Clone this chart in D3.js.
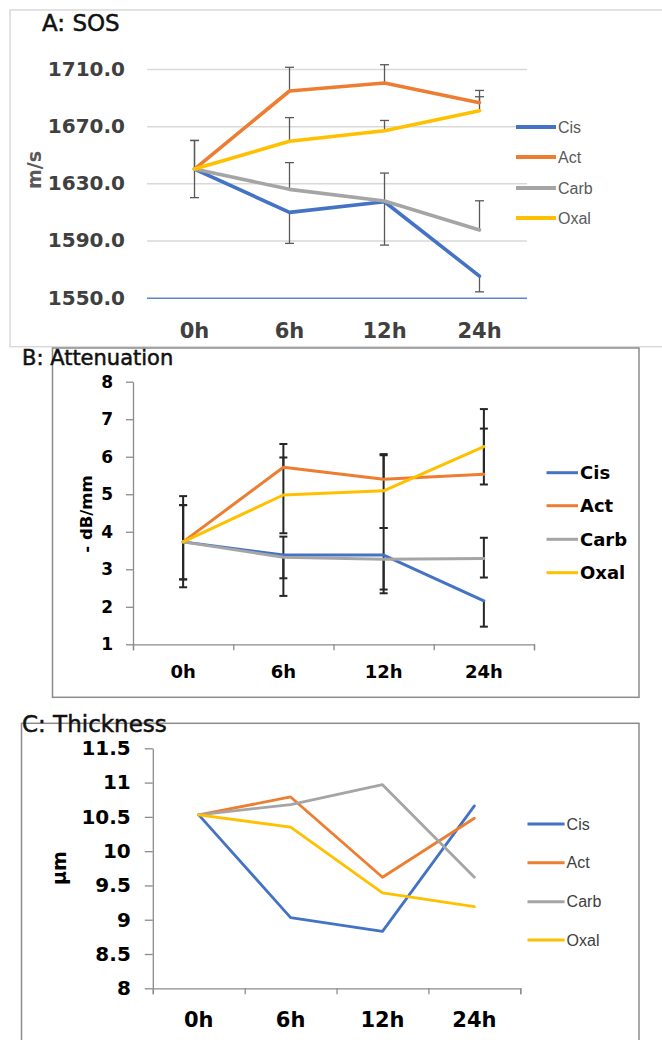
<!DOCTYPE html>
<html>
<head>
<meta charset="utf-8">
<script src="https://cdn.jsdelivr.net/npm/d3@7"></script>
<style>
  html, body { margin: 0; padding: 0; background: #fff; }
  svg { display: block; }
</style>
</head>
<body>
<svg id="chart" width="662" height="1040"></svg>
<script>
// ---------- shared ----------
const categories = ["0h", "6h", "12h", "24h"];
const seriesNames = ["Cis", "Act", "Carb", "Oxal"];
const seriesColors = ["#4472C4", "#ED7D31", "#A5A5A5", "#FFC000"];

// ---------- Panel A: SOS (m/s) ----------
const sosCis  = [1640, 1609.7, 1617.1, 1565.1];
const sosAct  = [1640, 1694.6, 1700.2, 1686.4];
const sosCarb = [1640, 1625.8, 1617.6, 1597.3];
const sosOxal = [1640, 1659.4, 1666.8, 1680.8];
// error bar [low, high]
const sosErrCis  = [[1620, 1640], [1588, 1609.7], [1586.8, 1617.1], [1554.1, 1565.1]];
const sosErrAct  = [[1640, 1660], [1694.6, 1711.2], [1700.2, 1713], [1686.4, 1695]];
const sosErrCarb = [[1640, 1640], [1625.8, 1644.5], [1617.6, 1637.2], [1597.3, 1617.8]];
const sosErrOxal = [[1640, 1660], [1659.4, 1676], [1666.8, 1674], [1680.8, 1690.6]];
const sosTicks = [1550, 1590, 1630, 1670, 1710];

// ---------- Panel B: Attenuation (- dB/mm) ----------
const attCis  = [3.73, 3.38, 3.38, 2.16];
const attAct  = [3.73, 5.72, 5.40, 5.53];
const attCarb = [3.73, 3.32, 3.27, 3.29];
const attOxal = [3.73, 4.98, 5.09, 6.27];
const attErrCis  = [[2.73, 4.71], [2.76, 3.87], [2.36, 4.10], [1.47, 2.16]];
const attErrAct  = [[2.52, 4.95], [5.72, 6.34], [5.40, 6.04], [5.53, 6.75]];
const attErrCarb = [[3.73, 3.73], [2.29, 3.32], [2.46, 3.27], [2.78, 3.84]];
const attErrOxal = [[2.73, 4.71], [3.96, 5.98], [4.10, 6.07], [5.26, 7.27]];
const attTicks = [1, 2, 3, 4, 5, 6, 7, 8];

// ---------- Panel C: Thickness (µm) ----------
const thkCis  = [10.53, 9.03, 8.83, 10.66];
const thkAct  = [10.53, 10.79, 9.62, 10.48];
const thkCarb = [10.53, 10.68, 10.97, 9.62];
const thkOxal = [10.53, 10.35, 9.39, 9.19];
const thkTicks = [8, 8.5, 9, 9.5, 10, 10.5, 11, 11.5];

const svg = d3.select("#chart");
const BOLD = "DejaVu Sans";

function drawPanel(cfg) {
  const g = svg.append("g");

  // frame
  g.append("rect")
    .attr("x", cfg.box[0]).attr("y", cfg.box[1])
    .attr("width", cfg.box[2]).attr("height", cfg.box[3])
    .attr("fill", "none").attr("stroke", cfg.boxColor).attr("stroke-width", 1.5);

  const x = d3.scaleBand().domain(categories).range(cfg.xRange).padding(0);
  const y = d3.scaleLinear().domain(cfg.yDomain).range(cfg.yRange);

  // y axis
  if (cfg.grid) {
    const w = cfg.xRange[1] - cfg.xRange[0];
    const ya = g.append("g")
      .attr("transform", `translate(${cfg.xRange[0]},0)`)
      .call(d3.axisLeft(y).tickValues(cfg.ticks).tickFormat(cfg.tickFmt)
        .tickSize(-w).tickPadding(cfg.yPad));
    ya.select(".domain").remove();
    ya.selectAll(".tick line")
      .attr("stroke", d => d === cfg.yDomain[0] ? "#5B86CF" : "#D9D9D9")
      .attr("stroke-width", 1.5);
    ya.selectAll(".tick text")
      .attr("font-family", BOLD).attr("font-weight", "bold")
      .attr("font-size", cfg.yFont).attr("fill", cfg.textColor);
  } else {
    const ya = g.append("g")
      .attr("transform", `translate(${cfg.xRange[0]},0)`)
      .call(d3.axisLeft(y).tickValues(cfg.ticks).tickFormat(cfg.tickFmt)
        .tickSize(cfg.tickLen).tickSizeOuter(0).tickPadding(cfg.yPad));
    ya.select(".domain").attr("stroke", "#8C8C8C").attr("stroke-width", 1.3);
    ya.selectAll(".tick line").attr("stroke", "#8C8C8C").attr("stroke-width", 1.3);
    ya.selectAll(".tick text")
      .attr("font-family", BOLD).attr("font-weight", "bold")
      .attr("font-size", cfg.yFont).attr("fill", cfg.textColor);

    // category boundary ticks along the x axis
    const xb = d3.scaleLinear().domain([0, categories.length]).range(cfg.xRange);
    const xba = g.append("g")
      .attr("transform", `translate(0,${cfg.yRange[0]})`)
      .call(d3.axisBottom(xb).ticks(categories.length).tickFormat("")
        .tickSize(6).tickSizeOuter(6));
    xba.select(".domain").attr("stroke", "#8C8C8C").attr("stroke-width", 1.3);
    xba.selectAll(".tick line").attr("stroke", "#8C8C8C").attr("stroke-width", 1.3);
  }

  // x labels
  const xa = g.append("g")
    .attr("transform", `translate(0,${cfg.yRange[0]})`)
    .call(d3.axisBottom(x).tickSize(0).tickPadding(cfg.xPad));
  xa.select(".domain").remove();
  xa.selectAll(".tick text")
    .attr("font-family", BOLD).attr("font-weight", "bold")
    .attr("font-size", cfg.xFont).attr("fill", cfg.textColor);

  const cx = d => x(d) + x.bandwidth() / 2;

  // error bars
  const eg = g.append("g");
  cfg.errors.forEach((errs, si) => {
    errs.forEach((e, i) => {
      const v = cfg.series[si][i];
      if (e[0] === e[1]) return;
      const xc = cx(categories[i]);
      eg.append("line")
        .attr("x1", xc).attr("x2", xc).attr("y1", y(e[0])).attr("y2", y(e[1]))
        .attr("stroke", cfg.errColor).attr("stroke-width", cfg.errWidth);
      [e[0], e[1]].forEach(ev => {
        if (ev === v) return;
        eg.append("line")
          .attr("x1", xc - cfg.cap).attr("x2", xc + cfg.cap)
          .attr("y1", y(ev)).attr("y2", y(ev))
          .attr("stroke", cfg.errColor).attr("stroke-width", cfg.errWidth);
      });
    });
  });

  // lines
  const line = d3.line().x((d, i) => cx(categories[i])).y(d => y(d));
  cfg.series.forEach((vals, si) => {
    g.append("path").datum(vals)
      .attr("d", line).attr("fill", "none")
      .attr("stroke", seriesColors[si]).attr("stroke-width", cfg.lineWidth)
      .attr("stroke-linejoin", "round").attr("stroke-linecap", "round");
  });

  // legend
  seriesNames.forEach((name, si) => {
    const ly = cfg.legY[si];
    g.append("line")
      .attr("x1", cfg.legX[0]).attr("x2", cfg.legX[1]).attr("y1", ly).attr("y2", ly)
      .attr("stroke", seriesColors[si]).attr("stroke-width", cfg.legWidth);
    g.append("text")
      .attr("x", cfg.legX[1] + 2).attr("y", ly).attr("dy", "0.36em")
      .attr("font-family", cfg.legFamily).attr("font-weight", cfg.legWeight)
      .attr("font-size", cfg.legFont).attr("fill", cfg.legColor)
      .text(name);
  });

  // title
  svg.append("text")
    .attr("x", cfg.title[1]).attr("y", cfg.title[2])
    .attr("font-family", "DejaVu Sans").attr("font-size", cfg.titleFont)
    .attr("fill", "#111").attr("stroke", "#111").attr("stroke-width", 0.5)
    .text(cfg.title[0]);

  // y label
  g.append("text")
    .attr("transform", `translate(${cfg.yLabel[1]},${cfg.yLabel[2]}) rotate(-90)`)
    .attr("text-anchor", "middle")
    .attr("font-family", BOLD).attr("font-weight", "bold")
    .attr("font-size", cfg.yLabelFont).attr("fill", cfg.yLabelColor)
    .text(cfg.yLabel[0]);
}

drawPanel({
  box: [10, 10, 700, 336.7], boxColor: "#D9D9D9",
  xRange: [147, 527], yDomain: [1550, 1710], yRange: [297.7, 69],
  grid: true, ticks: sosTicks, tickFmt: d3.format(".1f"), yPad: 22, yFont: 20,
  xPad: 25, xFont: 21, textColor: "#404040",
  series: [sosCis, sosAct, sosCarb, sosOxal],
  errors: [sosErrCis, sosErrAct, sosErrCarb, sosErrOxal],
  errColor: "#595959", errWidth: 1.3, cap: 4.5, lineWidth: 3.6,
  legX: [516, 556], legY: [127, 157, 188, 218], legWidth: 4,
  legFamily: "Liberation Sans", legWeight: "normal", legFont: 16, legColor: "#595959",
  title: ["A: SOS", 42, 31], titleFont: 23,
  yLabel: ["m/s", 41, 170], yLabelFont: 19, yLabelColor: "#595959"
});

drawPanel({
  box: [52.5, 348, 586.5, 349.3], boxColor: "#8C8C8C",
  xRange: [133, 534], yDomain: [1, 8], yRange: [644.3, 381.7],
  grid: false, ticks: attTicks, tickFmt: d3.format("d"), tickLen: 7, yPad: 13, yFont: 17,
  xPad: 21, xFont: 18, textColor: "#000",
  series: [attCis, attAct, attCarb, attOxal],
  errors: [attErrCis, attErrAct, attErrCarb, attErrOxal],
  errColor: "#262626", errWidth: 2, cap: 4, lineWidth: 3,
  legX: [546.5, 578], legY: [472.7, 505.7, 539.3, 572.7], legWidth: 3,
  legFamily: "DejaVu Sans", legWeight: "bold", legFont: 18, legColor: "#000",
  title: ["B: Attenuation", 22, 365], titleFont: 21,
  yLabel: ["- dB/mm", 92, 514], yLabelFont: 16.5, yLabelColor: "#000"
});

drawPanel({
  box: [21.5, 723.3, 617.5, 400], boxColor: "#8C8C8C",
  xRange: [152.8, 520.3], yDomain: [8, 11.5], yRange: [988.3, 748.3],
  grid: false, ticks: thkTicks, tickFmt: d3.format("~g"), tickLen: 8, yPad: 14, yFont: 20,
  xPad: 24, xFont: 21, textColor: "#000",
  series: [thkCis, thkAct, thkCarb, thkOxal],
  errors: [],
  errColor: "#262626", errWidth: 2, cap: 4, lineWidth: 2.8,
  legX: [527.5, 564.6], legY: [824, 862.7, 901.7, 940], legWidth: 3,
  legFamily: "Liberation Sans", legWeight: "normal", legFont: 16, legColor: "#404040",
  title: ["C: Thickness", 22, 731.7], titleFont: 23,
  yLabel: ["µm", 66, 868], yLabelFont: 19, yLabelColor: "#000"
});
</script>
</body>
</html>
